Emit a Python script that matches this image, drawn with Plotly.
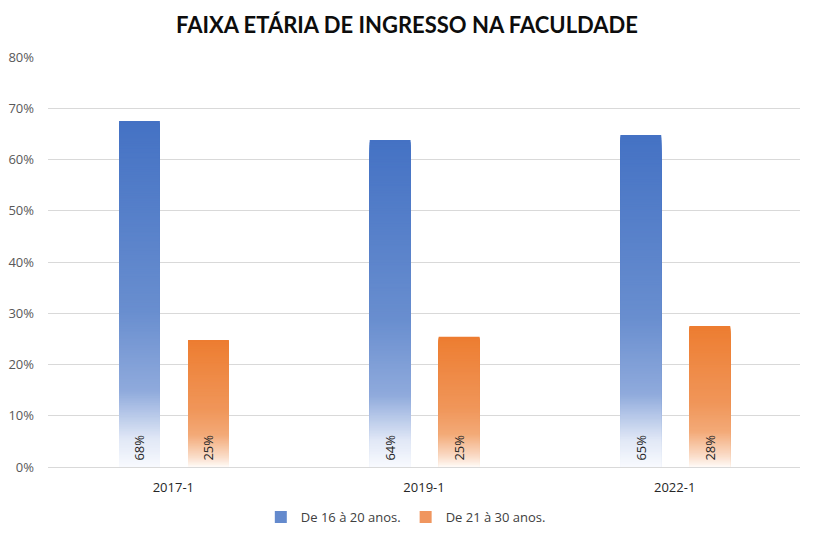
import plotly.graph_objects as go

categories = ["2017-1", "2019-1", "2022-1"]
series_names = ["De 16 à 20 anos.", "De 21 à 30 anos."]
values_16_20 = [0.675, 0.638, 0.648]
values_21_30 = [0.248, 0.254, 0.275]
labels_16_20 = ["68%", "64%", "65%"]
labels_21_30 = ["25%", "25%", "28%"]

# gradient stops: (fraction from top of bar, rgb)
blue_stops = [(0.0, (68, 114, 196)), (0.55, (105, 142, 207)), (0.78, (143, 170, 220)),
              (0.92, (225, 232, 246)), (1.0, (248, 250, 254))]
orange_stops = [(0.0, (237, 125, 49)), (0.55, (240, 150, 90)), (0.75, (243, 170, 120)),
                (0.92, (250, 220, 200)), (1.0, (255, 250, 246))]
legend_colors = ["rgb(100,138,205)", "rgb(240,150,95)"]

N = 200
WIDTH = 0.163
OFFSETS = [-0.2166, 0.0586]


def color_at(stops, t):
    for (t0, c0), (t1, c1) in zip(stops[:-1], stops[1:]):
        if t0 <= t <= t1:
            f = (t - t0) / (t1 - t0) if t1 > t0 else 0
            c = [round(a + (b - a) * f) for a, b in zip(c0, c1)]
            return f"rgb({c[0]},{c[1]},{c[2]})"
    c = stops[-1][1]
    return f"rgb({c[0]},{c[1]},{c[2]})"


fig = go.Figure()
for name, vals, labels, stops, off, lc in [
    (series_names[0], values_16_20, labels_16_20, blue_stops, OFFSETS[0], legend_colors[0]),
    (series_names[1], values_21_30, labels_21_30, orange_stops, OFFSETS[1], legend_colors[1]),
]:
    xs, ys, cols = [], [], []
    for k in range(N):
        t = (k + 0.5) / N
        for cat, v in zip(categories, vals):
            xs.append(cat)
            ys.append(v * (1 - k / N))
            cols.append(color_at(stops, t))
    fig.add_trace(go.Bar(
        x=xs, y=ys, width=WIDTH, offset=off,
        marker=dict(color=cols, line=dict(width=0)),
        showlegend=False, hoverinfo="skip",
    ))
    # text overlay
    fig.add_trace(go.Bar(
        x=categories, y=vals, width=WIDTH, offset=off,
        marker=dict(color="rgba(0,0,0,0)", line=dict(width=0)),
        text=["\u00a0" + s for s in labels], textposition="inside", insidetextanchor="start",
        textangle=-90, textfont=dict(family="Open Sans, sans-serif", size=13, color="#262626"),
        showlegend=False, cliponaxis=False, hoverinfo="skip",
    ))
    # legend entry
    fig.add_trace(go.Bar(
        x=[None], y=[None], name=name,
        marker=dict(color=lc, line=dict(width=0)),
    ))

fig.update_layout(
    template="none",
    width=811, height=532,
    barmode="overlay",
    plot_bgcolor="white", paper_bgcolor="white",
    margin=dict(l=40, r=19, t=49, b=73, autoexpand=False),
    title=dict(text="<b>FAIXA ETÁRIA DE INGRESSO NA FACULDADE</b>",
               x=0.492, xanchor="center", y=0.968, yanchor="middle",
               font=dict(family="Lato, Open Sans, sans-serif", size=22, color="#0d0d0d")),
    font=dict(family="Open Sans, sans-serif", size=13, color="#595959"),
    legend=dict(orientation="h", x=0.283, xanchor="left", y=-0.122, yanchor="middle",
                font=dict(size=13, color="#404040"), traceorder="normal",
                itemwidth=30, bgcolor="rgba(0,0,0,0)"),
    uniformtext=dict(minsize=8, mode="show"),
)
fig.update_xaxes(type="category", categoryorder="array", categoryarray=categories,
                 automargin=False, showgrid=False, showline=True, linecolor="#d9d9d9",
                 linewidth=1, ticks="", ticklabelstandoff=8,
                 tickfont=dict(size=13, color="#262626"))
fig.update_yaxes(range=[0, 0.8], dtick=0.1, tickformat=".0%", showgrid=True,
                 automargin=False, gridcolor="#d9d9d9", gridwidth=1, zeroline=False,
                 ticks="", showline=False, ticklabelstandoff=13,
                 tickfont=dict(size=13, color="#595959"))

fig.write_html("out.html")
